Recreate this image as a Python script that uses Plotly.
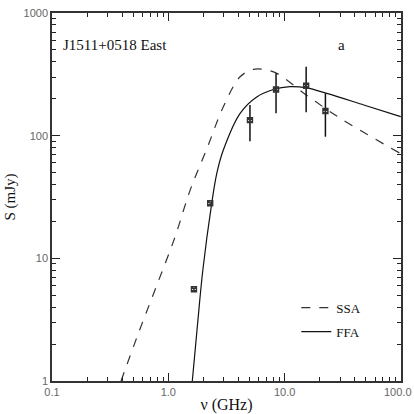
import plotly.graph_objects as go

# Data points
freq = [1.66, 2.29, 5.03, 8.43, 15.3, 22.4]
flux = [5.6, 28.1, 134, 238, 255, 159]
err_plus = [0, 0, 44, 84, 109, 62]
err_minus = [0, 0, 44, 86, 100, 61]

# Model curves
ffa_f = [1.607, 1.78, 1.98, 2.36, 2.61, 2.97, 4.14, 5.75, 8.0, 11.1, 15.5, 23.0, 47.9, 99.5]
ffa_s = [1.0, 2.86, 8.03, 28.1, 49.3, 76.3, 152, 207, 238, 251, 245, 221, 178, 143]
ssa_f = [0.392, 0.552, 0.794, 1.143, 1.54, 2.14, 2.97, 4.14, 5.38, 6.56, 8.55, 15.5, 29.9, 97.7]
ssa_s = [1.0, 2.44, 6.0, 15, 36, 78, 172, 302, 347, 347, 322, 213, 139, 72]

x_ticks = [0.1, 1, 10, 100]
x_ticktext = ["0.1", "1.0", "10.0", "100.0"]
y_ticks = [1, 10, 100, 1000]
y_ticktext = ["1", "10", "100", "1000"]

x_minor = [m * d for d in [0.1, 1, 10] for m in range(2, 10)]
y_minor = [m * d for d in [1, 10, 100] for m in range(2, 10)]

fig = go.Figure()
fig.add_trace(go.Scatter(x=ssa_f, y=ssa_s, mode="lines", name="SSA", legendgroup="ssa",
                         line=dict(color="#333", width=1.2, dash="dash", shape="spline")))
fig.add_trace(go.Scatter(x=ffa_f, y=ffa_s, mode="lines", name="FFA", legendgroup="ffa",
                         line=dict(color="#111", width=1.2, shape="spline")))
fig.add_trace(go.Scatter(x=freq, y=flux, mode="markers", showlegend=False,
                         marker=dict(symbol="square-x-open", size=5, color="#333",
                                     line=dict(width=1.4, color="#333")),
                         error_y=dict(type="data", array=err_plus, arrayminus=err_minus,
                                      width=0, thickness=1.5, color="#111")))

fig.add_annotation(x=0.025, y=0.913, xref="paper", yref="paper", text="J1511+0518 East",
                   showarrow=False, xanchor="left", yanchor="middle",
                   font=dict(family="Liberation Serif", size=15, color="#111"))
fig.add_annotation(x=0.83, y=0.913, xref="paper", yref="paper", text="a",
                   showarrow=False, xanchor="center", yanchor="middle",
                   font=dict(family="Liberation Serif", size=15, color="#111"))
# last x tick label (at the right edge, as in the original)
fig.add_annotation(x=1, y=0, xref="paper", yref="paper", text=x_ticktext[-1],
                   showarrow=False, xanchor="right", yanchor="top", xshift=13, yshift=-3,
                   font=dict(family="Liberation Sans", size=11, color="#666"))

axis_common = dict(showgrid=False, zeroline=False, showline=True, linecolor="#333",
                   linewidth=1.5, mirror="ticks", ticks="inside", ticklen=8,
                   tickwidth=1.2, tickcolor="#222", automargin=False,
                   tickfont=dict(family="Liberation Sans", size=11, color="#666"))

fig.update_xaxes(type="log", range=[-1, 2], tickvals=x_ticks, ticktext=x_ticktext,
                 minor=dict(tickvals=x_minor, ticks="inside", ticklen=4, tickwidth=1, tickcolor="#222"),
                 title=dict(text="ν (GHz)", font=dict(family="Liberation Serif", size=16, color="#111"),
                            standoff=2),
                 **axis_common)
fig.update_yaxes(type="log", range=[0, 3], tickvals=y_ticks, ticktext=y_ticktext,
                 minor=dict(tickvals=y_minor, ticks="inside", ticklen=4, tickwidth=1, tickcolor="#222"),
                 title=dict(text="S (mJy)", font=dict(family="Liberation Serif", size=15, color="#111"),
                            standoff=4),
                 **axis_common)

fig.update_layout(width=414, height=414, margin=dict(l=52, r=13, t=13, b=33),
                  plot_bgcolor="white", paper_bgcolor="white",
                  legend=dict(x=0.7, y=0.24, xanchor="left", yanchor="top",
                              bgcolor="rgba(0,0,0,0)", tracegroupgap=4,
                              font=dict(family="Liberation Serif", size=13, color="#111")))

fig.write_html("out.html", config={"displayModeBar": False},
               post_script="document.body.style.margin='0px';")
